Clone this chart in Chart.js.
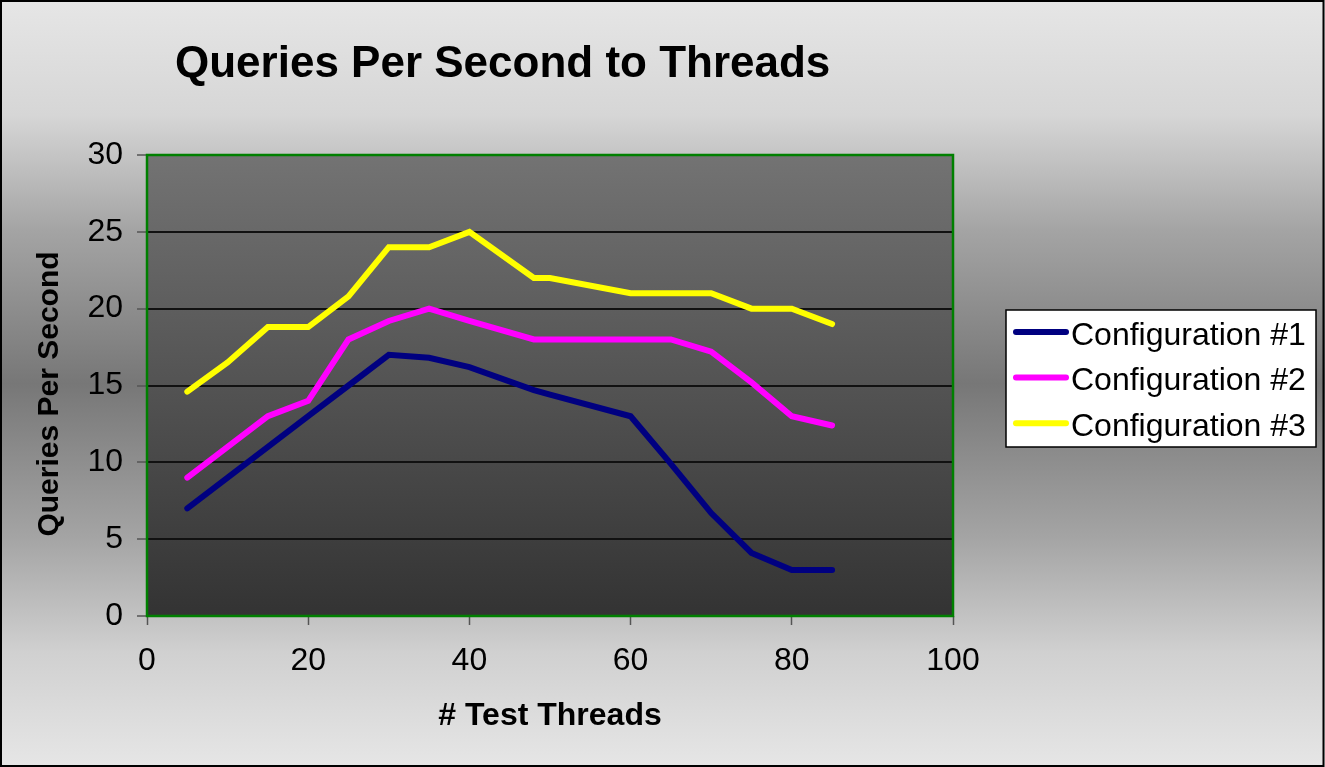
<!DOCTYPE html>
<html>
<head>
<meta charset="utf-8">
<title>Queries Per Second to Threads</title>
<script src="https://cdn.jsdelivr.net/npm/chart.js@4.4.0/dist/chart.umd.min.js"></script>
<style>
  html, body { margin: 0; padding: 0; background: #e4e4e4; }
  #chart { display: block; }
</style>
</head>
<body>
<canvas id="chart" width="1325" height="767"></canvas>
<script>
// values
const threads = [5, 10, 15, 20, 25, 30, 35, 40, 48, 50, 60, 65, 70, 75, 80, 85];
const config1 = [7, 9, 11, 13, 15, 17, 16.8, 16.2, 14.7, 14.4, 13, 9.9, 6.7, 4.1, 3, 3];
const config2 = [9, 11, 13, 14, 18, 19.2, 20, 19.2, 18, 18, 18, 18, 17.2, 15.2, 13, 12.4];
const config3 = [14.6, 16.5, 18.8, 18.8, 20.8, 24, 24, 25, 22, 22, 21, 21, 21, 20, 20, 19];
const seriesNames = ['Configuration #1', 'Configuration #2', 'Configuration #3'];
const seriesColors = ['#000080', '#FF00FF', '#FFFF00'];

const FONT = '"Liberation Sans", Arial, sans-serif';

function toPoints(ys) {
  return threads.map((x, i) => ({ x, y: ys[i] }));
}

// backgrounds, plot border, titles and the boxed legend
const excelLook = {
  id: 'excelLook',
  beforeDraw(chart) {
    const { ctx, width, height, chartArea: a } = chart;
    ctx.save();
    const bg = ctx.createLinearGradient(0, 0, 0, height);
    bg.addColorStop(0, '#e6e6e6');
    bg.addColorStop(0.15, '#d6d6d6');
    bg.addColorStop(0.3, '#a4a4a4');
    bg.addColorStop(0.5, '#777777');
    bg.addColorStop(0.7, '#a4a4a4');
    bg.addColorStop(0.85, '#d0d0d0');
    bg.addColorStop(1, '#e6e6e6');
    ctx.fillStyle = bg;
    ctx.fillRect(0, 0, width, height);

    const pg = ctx.createLinearGradient(0, a.top, 0, a.bottom);
    pg.addColorStop(0, '#737373');
    pg.addColorStop(1, '#333333');
    ctx.fillStyle = pg;
    ctx.fillRect(a.left, a.top, a.right - a.left, a.bottom - a.top);
    ctx.restore();
  },
  beforeDatasetsDraw(chart) {
    const { ctx, chartArea: a } = chart;
    ctx.save();
    ctx.strokeStyle = '#008000';
    ctx.lineWidth = 2.5;
    ctx.strokeRect(a.left, a.top, a.right - a.left, a.bottom - a.top);
    ctx.restore();
  },
  afterDraw(chart) {
    const { ctx, width, height } = chart;
    ctx.save();

    // title
    ctx.fillStyle = '#000';
    ctx.font = 'bold 44px ' + FONT;
    ctx.textAlign = 'left';
    ctx.textBaseline = 'alphabetic';
    ctx.fillText('Queries Per Second to Threads', 175, 77);

    // y axis title, sits a little below the plot centre in the original
    ctx.save();
    ctx.translate(50, 394);
    ctx.rotate(-Math.PI / 2);
    ctx.font = 'bold 30px ' + FONT;
    ctx.textAlign = 'center';
    ctx.textBaseline = 'middle';
    ctx.fillText('Queries Per Second', 0, 0);
    ctx.restore();

    // legend box
    ctx.fillStyle = '#fff';
    ctx.fillRect(1006, 310, 310, 137);
    ctx.strokeStyle = '#000';
    ctx.lineWidth = 1.5;
    ctx.strokeRect(1006, 310, 310, 137);

    ctx.font = '32px ' + FONT;
    chart.data.datasets.forEach((ds, i) => {
      const y = 332 + i * 45.6;
      ctx.strokeStyle = ds.borderColor;
      ctx.lineWidth = 6;
      ctx.lineCap = 'round';
      ctx.beginPath();
      ctx.moveTo(1016, y);
      ctx.lineTo(1066, y);
      ctx.stroke();
      ctx.fillStyle = '#000';
      ctx.fillText(ds.label, 1071, y + 12.5);
    });

    // outer frame
    ctx.strokeStyle = '#000';
    ctx.lineWidth = 2;
    ctx.strokeRect(1, 1, width - 2.5, height - 2);
    ctx.restore();
  }
};

const ctx = document.getElementById('chart');

new Chart(ctx, {
  type: 'line',
  data: {
    datasets: [config1, config2, config3].map((ys, i) => ({
      label: seriesNames[i],
      data: toPoints(ys),
      borderColor: seriesColors[i],
      backgroundColor: seriesColors[i],
      borderWidth: 6,
      borderCapStyle: 'round',
      borderJoinStyle: 'miter',
      pointRadius: 0,
      tension: 0,
      fill: false,
    })),
  },
  options: {
    responsive: false,
    animation: false,
    layout: { padding: { top: 155, right: 372, left: 0, bottom: 0 } },
    plugins: {
      legend: { display: false },
      title: { display: false },
      tooltip: { enabled: false },
    },
    scales: {
      x: {
        type: 'linear',
        min: 0,
        max: 100,
        afterFit(scale) { scale.height = 151; },
        ticks: { stepSize: 20, color: '#000', padding: 17, font: { family: FONT, size: 32 } },
        grid: { drawOnChartArea: false, drawTicks: true, tickLength: 9, tickColor: '#555', tickWidth: 1.5 },
        border: { display: false },
        title: {
          display: true,
          text: '# Test Threads',
          color: '#000',
          font: { family: FONT, size: 32, weight: 'bold' },
          padding: { top: 0, bottom: 32 },
        },
      },
      y: {
        min: 0,
        max: 30,
        afterFit(scale) { scale.width = 147; },
        ticks: { stepSize: 5, color: '#000', padding: 14, font: { family: FONT, size: 32 } },
        grid: { color: '#111', lineWidth: 2, drawTicks: true, tickLength: 10, tickColor: '#555', tickWidth: 1.5 },
        border: { display: false },
        title: { display: false },
      },
    },
  },
  plugins: [excelLook],
});
</script>
</body>
</html>
